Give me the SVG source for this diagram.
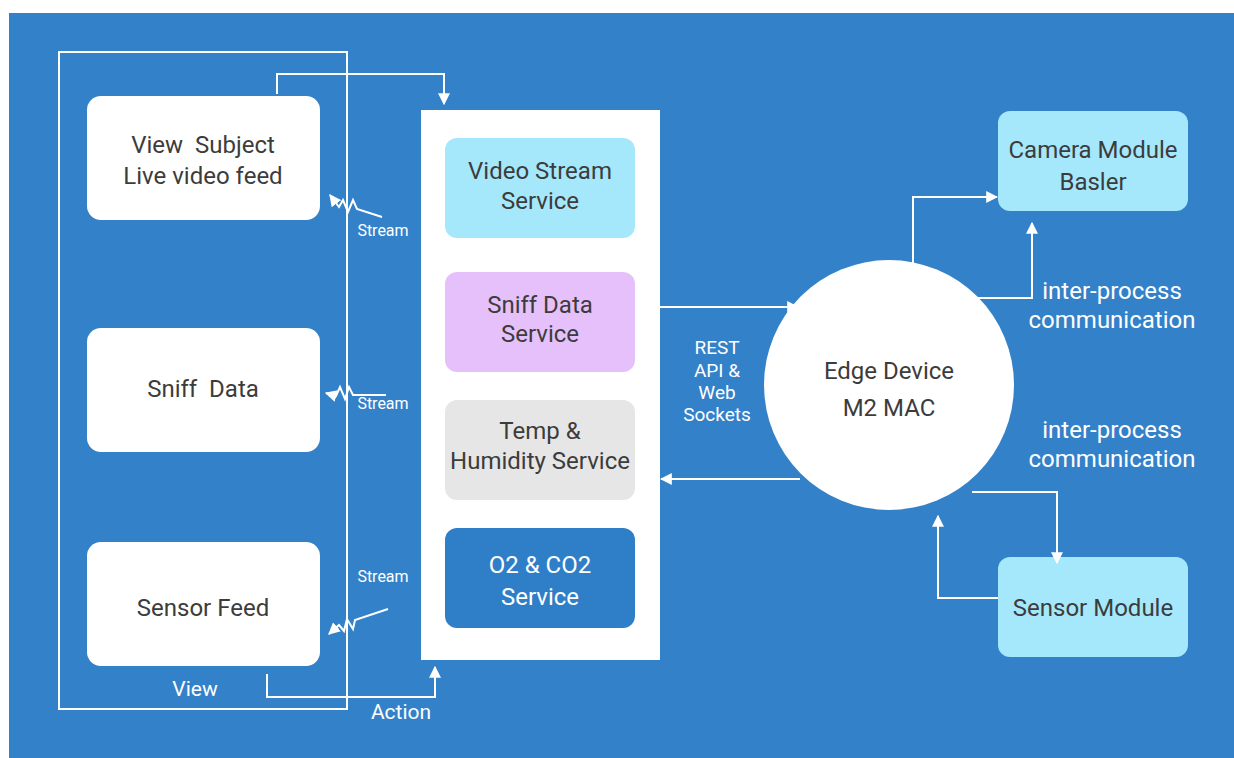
<svg xmlns="http://www.w3.org/2000/svg" width="1234" height="758" viewBox="0 0 1234 758">
<defs>
<marker id="ah" viewBox="0 0 10 10" refX="9" refY="5" markerWidth="12" markerHeight="12" markerUnits="userSpaceOnUse" orient="auto"><path d="M0,0 L10,5 L0,10 z" fill="#fff"/></marker>
<style>
.ln{fill:none;stroke:#fff;stroke-width:2}
.box{fill:#fff}
.t{font-family:Roboto,"Liberation Sans",sans-serif;font-size:24px;fill:#3c3c3c;text-anchor:middle}
.tw{font-family:Roboto,"Liberation Sans",sans-serif;fill:#fff;text-anchor:middle}
</style>
</defs>
<rect x="0" y="0" width="1234" height="758" fill="#fff"/>
<rect x="9" y="13" width="1225" height="745" fill="#3381c9"/>
<rect x="59" y="52" width="288" height="657" class="ln"/>
<g id="viewSubject"><rect x="87" y="96" width="233" height="124" rx="14" class="box"/><text class="t" x="203" y="153" xml:space="preserve">View  Subject</text><text class="t" x="203" y="184">Live video feed</text></g>
<g id="sniffData"><rect x="87" y="328" width="233" height="124" rx="14" class="box"/><text class="t" x="203" y="397" xml:space="preserve">Sniff  Data</text></g>
<g id="sensorFeed"><rect x="87" y="542" width="233" height="124" rx="14" class="box"/><text class="t" x="203" y="616">Sensor Feed</text></g>
<g id="panel"><rect x="421" y="110" width="239" height="550" fill="#fff"/></g>
<g id="videoStream"><rect x="445" y="138" width="190" height="100" rx="12" fill="#a5e8fb"/><text class="t" x="540" y="179">Video Stream</text><text class="t" x="540" y="209">Service</text></g>
<g id="sniffService"><rect x="445" y="272" width="190" height="100" rx="12" fill="#e6c0fa"/><text class="t" x="540" y="313">Sniff Data</text><text class="t" x="540" y="342">Service</text></g>
<g id="tempService"><rect x="445" y="400" width="190" height="100" rx="12" fill="#e6e6e6"/><text class="t" x="540" y="439">Temp &amp;</text><text class="t" x="540" y="469">Humidity Service</text></g>
<g id="o2Service"><rect x="445" y="528" width="190" height="100" rx="12" fill="#2f7fc8"/><text class="tw" font-size="24" x="540" y="573">O2 &amp; CO2</text><text class="tw" font-size="24" x="540" y="605">Service</text></g>
<g id="edgeDevice"><circle cx="889" cy="385" r="125" fill="#fff"/><text class="t" x="889" y="379">Edge Device</text><text class="t" x="889" y="416">M2 MAC</text></g>
<g id="cameraModule"><rect x="998" y="111" width="190" height="100" rx="12" fill="#a5e8fb"/><text class="t" x="1093" y="158">Camera Module</text><text class="t" x="1093" y="190">Basler</text></g>
<g id="sensorModule"><rect x="998" y="557" width="190" height="100" rx="12" fill="#a5e8fb"/><text class="t" x="1093" y="616">Sensor Module</text></g>
<g id="connectors">
<path class="ln" d="M277,94 V74 H444 V104" marker-end="url(#ah)"/>
<path class="ln" d="M267,674 V697 H435 V667" marker-end="url(#ah)"/>
<path class="ln" d="M382,217 L357,209 L353,200 L348,212 L343,200 L339,207 L330,195" marker-end="url(#ah)"/>
<path class="ln" d="M386,395 L353,395 L349,387 L345,399 L340,387 L336,396 L326,393" marker-end="url(#ah)"/>
<path class="ln" d="M388,609 L355,620 L353,629 L347,619 L344,631 L339,625 L329,634" marker-end="url(#ah)"/>
<path class="ln" d="M660,307 H798" marker-end="url(#ah)"/>
<path class="ln" d="M800,479 H661" marker-end="url(#ah)"/>
<path class="ln" d="M913,263 V197 H997" marker-end="url(#ah)"/>
<path class="ln" d="M975,298 H1032 V223" marker-end="url(#ah)"/>
<path class="ln" d="M972,492 H1057 V563" marker-end="url(#ah)"/>
<path class="ln" d="M998,598 H938 V516" marker-end="url(#ah)"/>
</g>
<g id="labels">
<text class="tw" font-size="16" x="383" y="236">Stream</text>
<text class="tw" font-size="16" x="383" y="409">Stream</text>
<text class="tw" font-size="16" x="383" y="582">Stream</text>
<text class="tw" font-size="21" x="195" y="696">View</text>
<text class="tw" font-size="21" x="401" y="719">Action</text>
<text class="tw" font-size="19" x="717" y="354">REST</text>
<text class="tw" font-size="19" x="717" y="377">API &amp;</text>
<text class="tw" font-size="19" x="717" y="399">Web</text>
<text class="tw" font-size="19" x="717" y="421">Sockets</text>
<text class="tw" font-size="24" x="1112" y="299">inter-process</text>
<text class="tw" font-size="24" x="1112" y="328">communication</text>
<text class="tw" font-size="24" x="1112" y="438">inter-process</text>
<text class="tw" font-size="24" x="1112" y="467">communication</text>
</g>
</svg>
